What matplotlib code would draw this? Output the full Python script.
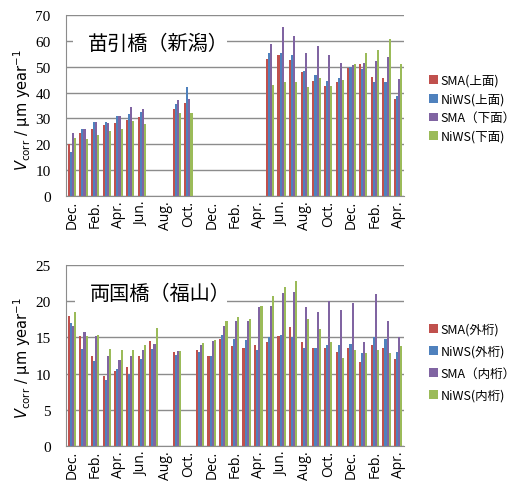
import numpy as np
import matplotlib
matplotlib.use("Agg")
import matplotlib.pyplot as plt
from matplotlib.patches import Rectangle

nan = np.nan
months = ["Dec.", "Jan.", "Feb.", "Mar.", "Apr.", "May", "Jun.", "Jul.", "Aug.", "Sep.", "Oct.", "Nov.",
          "Dec.", "Jan.", "Feb.", "Mar.", "Apr.", "May", "Jun.", "Jul.", "Aug.", "Sep.", "Oct.", "Nov.",
          "Dec.", "Jan.", "Feb.", "Mar.", "Apr."]

# Top chart: 苗引橋(新潟)
top_labels = ["SMA(上面)", "NiWS(上面)", "SMA（下面）", "NiWS(下面)"]
top_sma_upper = [20.3, 24.5, 26.0, 27.3, 28.3, 29.5, 30.5, nan, nan, 33.5, 36.0, nan,
                 nan, nan, nan, nan, nan, 52.8, 54.5, 52.5, 48.0, 44.6, 42.6, 44.0,
                 49.5, 51.0, 46.0, 45.5, 37.5]
top_niws_upper = [17.0, 26.0, 28.5, 28.7, 30.8, 31.7, 32.5, nan, nan, 35.5, 42.0, nan,
                  nan, nan, nan, nan, nan, 55.2, 55.2, 54.5, 48.5, 46.8, 44.3, 45.6,
                  50.0, 49.0, 44.0, 44.0, 38.8]
top_sma_lower = [24.5, 26.0, 28.7, 28.3, 31.0, 34.6, 33.6, nan, nan, 37.0, 37.5, nan,
                 nan, nan, nan, nan, nan, 58.6, 65.3, 62.0, 55.2, 58.0, 54.5, 51.5,
                 50.5, 51.5, 52.3, 53.9, 45.2]
top_niws_lower = [22.3, 22.0, 23.7, 25.3, 26.0, 29.0, 28.0, nan, nan, 32.2, 32.2, nan,
                  nan, nan, nan, nan, nan, 43.0, 44.0, 44.0, 42.2, 45.5, 42.6, 45.0,
                  51.0, 55.3, 56.5, 60.8, 51.0]

# Bottom chart: 両国橋(福山)
bot_labels = ["SMA(外桁)", "NiWS(外桁)", "SMA（内桁）", "NiWS(内桁)"]
bot_sma_out = [18.0, 15.2, 12.5, 9.7, 10.3, 10.9, 12.4, 14.5, nan, 13.05, nan, 13.3,
               12.4, 14.8, 13.8, 13.6, 13.9, 14.4, 15.2, 16.4, 14.4, 13.5, 13.5, 13.05,
               13.5, 11.6, 13.9, 13.6, 12.0]
bot_niws_out = [17.0, 13.4, 11.7, 9.1, 10.7, 10.0, 12.0, 13.4, nan, 12.6, nan, 13.05,
                12.4, 15.3, 14.8, 14.7, 13.3, 15.0, 15.3, 15.0, 13.6, 13.6, 13.9, 13.9,
                14.1, 12.9, 15.0, 14.8, 13.05]
bot_sma_in = [16.6, 15.8, 15.2, 12.5, 11.9, 12.4, 13.2, 14.1, nan, 13.1, nan, 14.0,
              14.5, 16.6, 17.3, 17.3, 19.2, 19.3, 21.1, 21.3, 19.2, 18.5, 20.0, 18.8,
              19.8, 14.4, 21.0, 17.3, 15.0]
bot_niws_in = [18.5, 15.2, 15.4, 13.4, 13.2, 13.3, 14.0, 16.3, nan, 13.1, nan, 14.2,
               14.7, 17.3, 17.8, 17.5, 19.3, 20.7, 21.9, 22.8, 17.6, 16.1, 14.4, 12.1,
               13.2, 12.9, 13.3, 12.9, 13.8]

colors = ["#C0504D", "#4F81BD", "#8064A2", "#9BBB59"]
grid_c = "#8C8C8C"
CJK = ["Noto Sans CJK JP", "DejaVu Sans"]

fig = plt.figure(figsize=(5.2, 4.85), dpi=100)
ax_top = fig.add_axes([66/520, 1-197/485, 338/520, 181/485])
ax_bot = fig.add_axes([66/520, 1-447/485, 338/520, 181/485])

x = np.arange(len(months))
bw = 0.18

def draw(ax, series, labels, ymax, ystep, title, box, legend_anchor, lspacing):
    for i, (s, c, lab) in enumerate(zip(series, colors, labels)):
        ax.bar(x + (i - 1.5) * bw, s, width=bw, color=c, label=lab, zorder=2, linewidth=0)
    ax.set_xlim(-0.5, len(months) - 0.5)
    ax.set_ylim(0, ymax)
    ax.set_yticks(np.arange(0, ymax + 0.1, ystep))
    ax.yaxis.grid(True, color=grid_c, linewidth=1.0)
    ax.set_axisbelow(True)
    ax.set_xticks(x[::2])
    ax.set_xticklabels(months[::2], rotation=90, fontsize=10, family=["Open Sans", "DejaVu Sans"])
    ax.tick_params(axis="x", length=0, pad=3)
    ax.tick_params(axis="y", length=0, pad=11)
    for t in ax.get_yticklabels():
        t.set_family("Liberation Serif")
        t.set_fontsize(11)
    for sp in ["top", "right"]:
        ax.spines[sp].set_visible(False)
    for sp in ["left", "bottom"]:
        ax.spines[sp].set_color(grid_c)
    ax.add_patch(Rectangle((box[0], box[1]), box[2], box[3], transform=ax.transAxes,
                           facecolor="white", edgecolor="none", zorder=3))
    ax.text(box[0] + 0.045, box[1] + box[3] / 2, title, transform=ax.transAxes,
            fontsize=14.5, family=CJK, va="center", ha="left", zorder=4)
    fig.legend(*ax.get_legend_handles_labels(), loc="upper left",
               bbox_to_anchor=legend_anchor, frameon=False,
               prop={"family": CJK, "size": 9}, handlelength=0.7, handleheight=0.7,
               handletextpad=0.2, labelspacing=lspacing, borderaxespad=0)

draw(ax_top, [top_sma_upper, top_niws_upper, top_sma_lower, top_niws_lower], top_labels,
     70, 10, "苗引橋（新潟）", (0.02, 0.77, 0.455, 0.14), (424/520, 1-70/485), 0.45)
draw(ax_bot, [bot_sma_out, bot_niws_out, bot_sma_in, bot_niws_in], bot_labels,
     25, 5, "両国橋（福山）", (0.026, 0.77, 0.45, 0.15), (424/520, 1-319/485), 0.72)

ylab = r"$V_{\rm corr}$ / μm year$^{-1}$"
fig.text(22/520, 1-110/485, ylab, rotation=90, ha="center", va="center", fontsize=10.5)
fig.text(22/520, 1-358/485, ylab, rotation=90, ha="center", va="center", fontsize=10.5)

fig.savefig("out.png", dpi=100)
